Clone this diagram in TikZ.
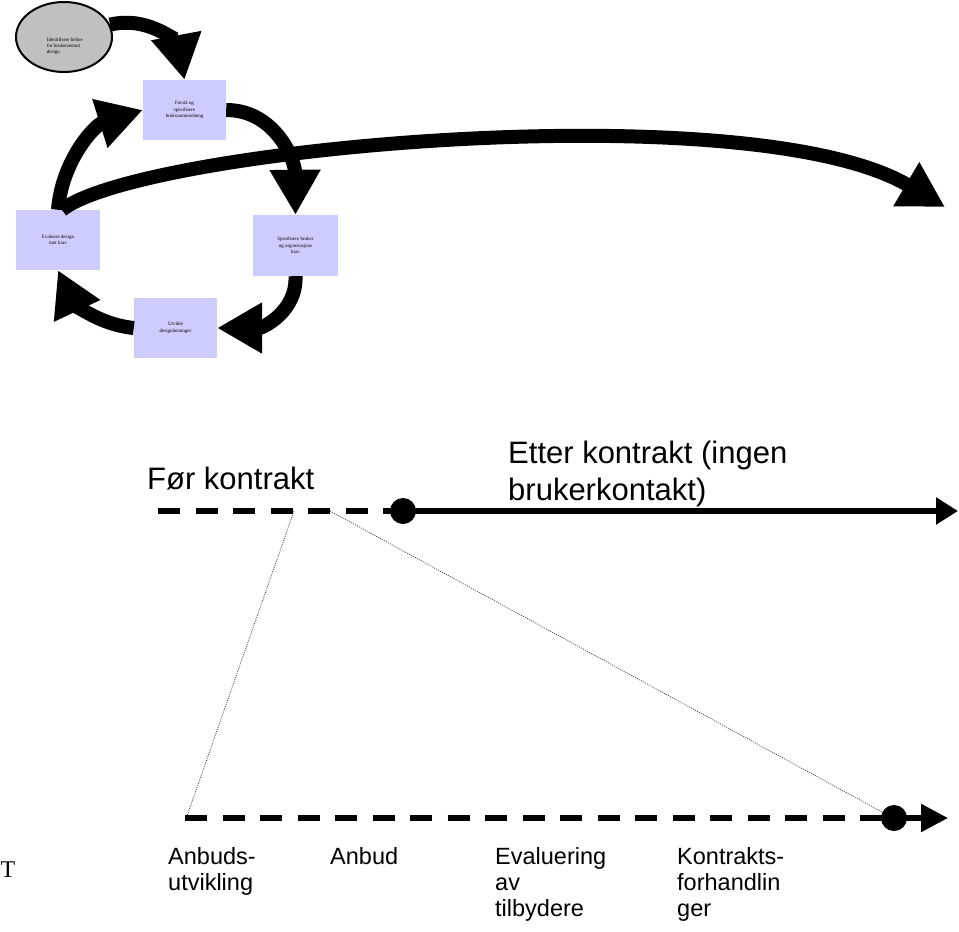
\documentclass[tikz,border=0pt]{standalone}
\usepackage{fontspec}
\setmainfont{Liberation Sans}
\newfontfamily\tnr{Liberation Serif}
\usetikzlibrary{shapes.geometric,arrows.meta,calc}
\definecolor{boxfill}{HTML}{CCCCFF}
\definecolor{ellfill}{HTML}{C0C0C0}
\tikzset{
  procbox/.style={fill=boxfill,draw=none,minimum width=83pt,minimum height=60pt,align=center,
    font=\tnr\fontsize{5}{6.5}\selectfont,inner sep=0pt},
  startell/.style={ellipse,fill=ellfill,draw=black,line width=2pt,minimum width=96pt,minimum height=70pt,inner sep=0pt},
  flow/.style={line width=14pt,-{Triangle[length=45pt,width=48pt]}},
  dashline/.style={line width=5.5pt,dash pattern=on 22pt off 15.5pt},
  solidline/.style={line width=5.5pt},
  dotline/.style={line width=0.7pt,dash pattern=on 1pt off 1.2pt,black!80},
  dotnode/.style={circle,fill=black,minimum size=26pt,inner sep=0pt},
  bigtext/.style={font=\fontsize{31}{37}\selectfont,align=left,inner sep=0pt},
  labtext/.style={font=\fontsize{23.5}{26}\selectfont,align=left,inner sep=0pt,anchor=north west}
}
\begin{document}
\begin{tikzpicture}[x=1pt,y=-1pt]
\useasboundingbox (0,0) rectangle (959,932);
% upper cycle
\node[startell] (id) at (64,37) {};
\node[align=left,font=\tnr\fontsize{5}{6}\selectfont,inner sep=0pt] (idt) at (65,46) {Identifisere behov\\for brukersentert\\design};
\node[procbox] (b1) at (184.5,110) {Forstå og\\spesifisere\\brukssammenheng};
\node[procbox,minimum width=85pt,minimum height=61pt] (b2) at (295.5,245.5) {Spesifisere bruker\\og organisasjons\\krav};
\node[procbox,minimum width=84pt] (b3) at (58,240) {Evaluere design\\mot krav};
\node[procbox] (b4) at (175.5,328) {Utvikle\\designløsninger};
\coordinate (farend) at (945,207);
\draw[flow] (id.15) .. controls (150,15) and (178,45) .. (b1.north);
\draw[flow] (b1.east) .. controls (275,110) and (295,160) .. (b2.north);
\draw[flow] (b2.south) .. controls (297,312) and (262,328) .. (b4.east);
\draw[flow] (b4.west) .. controls (95,324) and (72,300) .. (b3.south);
\draw[flow] (b3.north) .. controls (62,160) and (95,125) .. (b1.west);
\draw[flow] ($(b3.north)+(4,0)$) .. controls (140,148) and (750,92) .. (farend);
% lower timeline
\coordinate (d1s) at (158,511);
\node[dotnode] (c1) at (403,511) {};
\coordinate (a1) at (958,511);
\draw[dashline] (d1s) -- (c1.center);
\draw[solidline,-{Triangle[length=22pt,width=26pt]}] (c1.center) -- (a1);
\coordinate (d2s) at (185,818);
\node[dotnode] (c2) at (894,818) {};
\coordinate (a2) at (948,818);
\draw[dashline] (d2s) -- (c2.center);
\draw[solidline,-{Triangle[length=27pt,width=27pt]}] (c2.center) -- (a2);
\coordinate (p1) at (294,511);
\coordinate (q1) at (187,816);
\coordinate (p2) at (330,511);
\coordinate (q2) at (882,812);
\draw[dotline] (p1) -- (q1);
\draw[dotline] (p2) -- (q2);
% texts
\node[bigtext,anchor=base west] (t1) at (147,489) {Før kontrakt};
\node[bigtext,anchor=base west] (t2) at (508,500) {Etter kontrakt (ingen\\brukerkontakt)};
\node[labtext] (l1) at (168,847) {Anbuds-\\utvikling};
\node[labtext] (l2) at (330,847) {Anbud};
\node[labtext] (l3) at (495,847) {Evaluering\\av\\tilbydere};
\node[labtext] (l4) at (677,847) {Kontrakts-\\forhandlin\\ger};
\node[font=\tnr\fontsize{24}{24}\selectfont,inner sep=0pt,anchor=west] (tt) at (0.5,870) {T};
\end{tikzpicture}
\end{document}
